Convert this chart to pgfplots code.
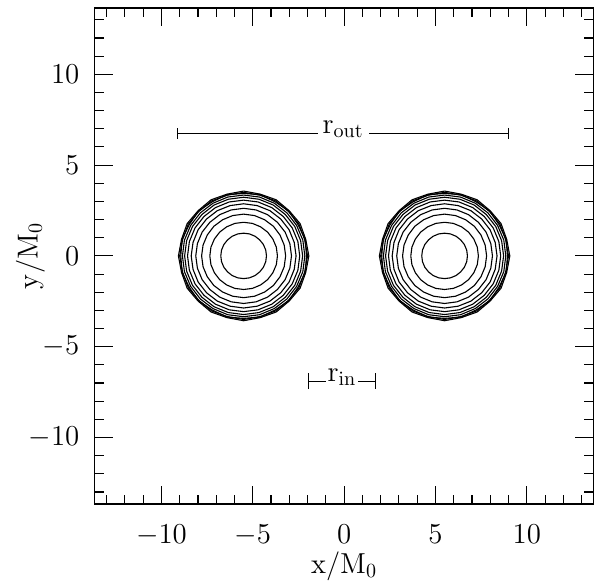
\documentclass[border=0pt]{standalone}
\usepackage{pgfplots}
\pgfplotsset{compat=1.18}
\usetikzlibrary{arrows.meta}

\pgfplotsset{cont/.style={black, line width=0.55pt, line join=round}}
\newcommand\lblfont{\fontsize{14.5}{17}\selectfont}

\begin{document}
\begin{tikzpicture}
\useasboundingbox (-47.25pt,-38.75pt) rectangle (252pt,251.25pt);
\begin{axis}[
  at={(0,0)}, anchor=south west,
  scale only axis, width=248.75pt, height=247.25pt,
  xmin=-13.65, xmax=13.65, ymin=-13.65, ymax=13.65,
  xtick={-10,-5,0,5,10}, ytick={-10,-5,0,5,10},
  minor xtick={-13,-12,-11,-9,-8,-7,-6,-4,-3,-2,-1,1,2,3,4,6,7,8,9,11,12,13},
  minor ytick={-13,-12,-11,-9,-8,-7,-6,-4,-3,-2,-1,1,2,3,4,6,7,8,9,11,12,13},
  tick align=inside, tick pos=both,
  major tick length=9pt, minor tick length=4.5pt,
  every tick/.style={black, line width=0.55pt},
  axis line style={black, line width=0.75pt},
  tick label style={font=\lblfont},
  xticklabel style={anchor=base, yshift=-19.75pt},
  yticklabel style={anchor=east, inner sep=0pt, xshift=-7.5pt},
  label style={font=\lblfont},
  xlabel={$\mathrm{x/M_0}$}, ylabel={$\mathrm{y/M_0}$},
  xlabel style={at={([yshift=-34.75pt]axis description cs:0.5,0)}, anchor=base},
  ylabel style={at={([xshift=-28.5pt]axis description cs:0,0.5)}, anchor=base},
]
% left star
\addplot[cont] coordinates {(-4.25,0) (-4.29,0.32) (-4.42,0.63) (-4.62,0.88) (-4.87,1.08) (-5.18,1.21) (-5.50,1.25) (-5.82,1.21) (-6.13,1.08) (-6.38,0.88) (-6.58,0.63) (-6.71,0.32) (-6.75,0) (-6.71,-0.32) (-6.58,-0.63) (-6.38,-0.88) (-6.13,-1.08) (-5.82,-1.21) (-5.50,-1.25) (-5.18,-1.21) (-4.87,-1.08) (-4.62,-0.88) (-4.42,-0.63) (-4.29,-0.32) (-4.25,0)};
\addplot[cont] coordinates {(-3.65,0) (-3.71,0.48) (-3.90,0.93) (-4.19,1.31) (-4.57,1.60) (-5.02,1.79) (-5.50,1.85) (-5.98,1.79) (-6.43,1.60) (-6.81,1.31) (-7.10,0.93) (-7.29,0.48) (-7.35,0) (-7.29,-0.48) (-7.10,-0.93) (-6.81,-1.31) (-6.43,-1.60) (-5.98,-1.79) (-5.50,-1.85) (-5.02,-1.79) (-4.57,-1.60) (-4.19,-1.31) (-3.90,-0.93) (-3.71,-0.48) (-3.65,0)};
\addplot[cont] coordinates {(-3.20,0) (-3.28,0.60) (-3.51,1.15) (-3.87,1.63) (-4.35,1.99) (-4.90,2.22) (-5.50,2.30) (-6.10,2.22) (-6.65,1.99) (-7.13,1.63) (-7.49,1.15) (-7.72,0.60) (-7.80,0) (-7.72,-0.60) (-7.49,-1.15) (-7.13,-1.63) (-6.65,-1.99) (-6.10,-2.22) (-5.50,-2.30) (-4.90,-2.22) (-4.35,-1.99) (-3.87,-1.63) (-3.51,-1.15) (-3.28,-0.60) (-3.20,0)};
\addplot[cont] coordinates {(-2.88,0) (-2.97,0.68) (-3.23,1.31) (-3.65,1.85) (-4.19,2.27) (-4.82,2.53) (-5.50,2.62) (-6.18,2.53) (-6.81,2.27) (-7.35,1.85) (-7.77,1.31) (-8.03,0.68) (-8.12,0) (-8.03,-0.68) (-7.77,-1.31) (-7.35,-1.85) (-6.81,-2.27) (-6.18,-2.53) (-5.50,-2.62) (-4.82,-2.53) (-4.19,-2.27) (-3.65,-1.85) (-3.23,-1.31) (-2.97,-0.68) (-2.88,0)};
\addplot[cont] coordinates {(-2.63,0) (-2.73,0.74) (-3.01,1.44) (-3.47,2.03) (-4.06,2.49) (-4.76,2.77) (-5.50,2.87) (-6.24,2.77) (-6.94,2.49) (-7.53,2.03) (-7.99,1.44) (-8.27,0.74) (-8.37,0) (-8.27,-0.74) (-7.99,-1.44) (-7.53,-2.03) (-6.94,-2.49) (-6.24,-2.77) (-5.50,-2.87) (-4.76,-2.77) (-4.06,-2.49) (-3.47,-2.03) (-3.01,-1.44) (-2.73,-0.74) (-2.63,0)};
\addplot[cont] coordinates {(-2.43,0) (-2.53,0.79) (-2.84,1.54) (-3.33,2.17) (-3.96,2.66) (-4.71,2.97) (-5.50,3.07) (-6.29,2.97) (-7.04,2.66) (-7.67,2.17) (-8.16,1.54) (-8.47,0.79) (-8.57,0) (-8.47,-0.79) (-8.16,-1.54) (-7.67,-2.17) (-7.04,-2.66) (-6.29,-2.97) (-5.50,-3.07) (-4.71,-2.97) (-3.96,-2.66) (-3.33,-2.17) (-2.84,-1.54) (-2.53,-0.79) (-2.43,0)};
\addplot[cont] coordinates {(-2.27,0) (-2.38,0.84) (-2.70,1.62) (-3.22,2.28) (-3.88,2.80) (-4.66,3.12) (-5.50,3.23) (-6.34,3.12) (-7.12,2.80) (-7.78,2.28) (-8.30,1.62) (-8.62,0.84) (-8.73,0) (-8.62,-0.84) (-8.30,-1.62) (-7.78,-2.28) (-7.12,-2.80) (-6.34,-3.12) (-5.50,-3.23) (-4.66,-3.12) (-3.88,-2.80) (-3.22,-2.28) (-2.70,-1.62) (-2.38,-0.84) (-2.27,0)};
\addplot[cont] coordinates {(-2.15,0) (-2.26,0.87) (-2.60,1.68) (-3.13,2.37) (-3.82,2.90) (-4.63,3.24) (-5.50,3.35) (-6.37,3.24) (-7.18,2.90) (-7.87,2.37) (-8.40,1.68) (-8.74,0.87) (-8.85,0) (-8.74,-0.87) (-8.40,-1.68) (-7.87,-2.37) (-7.18,-2.90) (-6.37,-3.24) (-5.50,-3.35) (-4.63,-3.24) (-3.82,-2.90) (-3.13,-2.37) (-2.60,-1.68) (-2.26,-0.87) (-2.15,0)};
\addplot[cont] coordinates {(-2.06,0) (-2.13,0.90) (-2.52,1.72) (-3.03,2.47) (-3.78,2.98) (-4.60,3.37) (-5.50,3.44) (-6.40,3.37) (-7.22,2.98) (-7.97,2.47) (-8.48,1.72) (-8.87,0.90) (-8.94,0) (-8.87,-0.90) (-8.48,-1.72) (-7.97,-2.47) (-7.22,-2.98) (-6.40,-3.37) (-5.50,-3.44) (-4.60,-3.37) (-3.78,-2.98) (-3.03,-2.47) (-2.52,-1.72) (-2.13,-0.90) (-2.06,0)};
\addplot[cont] coordinates {(-2.00,0) (-2.16,0.90) (-2.47,1.75) (-3.05,2.45) (-3.75,3.03) (-4.60,3.34) (-5.50,3.50) (-6.40,3.34) (-7.25,3.03) (-7.95,2.45) (-8.53,1.75) (-8.84,0.90) (-9.00,0) (-8.84,-0.90) (-8.53,-1.75) (-7.95,-2.45) (-7.25,-3.03) (-6.40,-3.34) (-5.50,-3.50) (-4.60,-3.34) (-3.75,-3.03) (-3.05,-2.45) (-2.47,-1.75) (-2.16,-0.90) (-2.00,0)};
\addplot[cont] coordinates {(-1.93,0) (-2.10,0.91) (-2.41,1.78) (-3.01,2.49) (-3.72,3.09) (-4.59,3.40) (-5.50,3.57) (-6.41,3.40) (-7.28,3.09) (-7.99,2.49) (-8.59,1.78) (-8.90,0.91) (-9.07,0) (-8.90,-0.91) (-8.59,-1.78) (-7.99,-2.49) (-7.28,-3.09) (-6.41,-3.40) (-5.50,-3.57) (-4.59,-3.40) (-3.72,-3.09) (-3.01,-2.49) (-2.41,-1.78) (-2.10,-0.91) (-1.93,0)};
% right star
\addplot[cont] coordinates {(6.75,0) (6.71,0.32) (6.58,0.63) (6.38,0.88) (6.13,1.08) (5.82,1.21) (5.50,1.25) (5.18,1.21) (4.87,1.08) (4.62,0.88) (4.42,0.63) (4.29,0.32) (4.25,0) (4.29,-0.32) (4.42,-0.63) (4.62,-0.88) (4.87,-1.08) (5.18,-1.21) (5.50,-1.25) (5.82,-1.21) (6.13,-1.08) (6.38,-0.88) (6.58,-0.63) (6.71,-0.32) (6.75,0)};
\addplot[cont] coordinates {(7.35,0) (7.29,0.48) (7.10,0.93) (6.81,1.31) (6.43,1.60) (5.98,1.79) (5.50,1.85) (5.02,1.79) (4.57,1.60) (4.19,1.31) (3.90,0.93) (3.71,0.48) (3.65,0) (3.71,-0.48) (3.90,-0.93) (4.19,-1.31) (4.57,-1.60) (5.02,-1.79) (5.50,-1.85) (5.98,-1.79) (6.43,-1.60) (6.81,-1.31) (7.10,-0.93) (7.29,-0.48) (7.35,0)};
\addplot[cont] coordinates {(7.80,0) (7.72,0.60) (7.49,1.15) (7.13,1.63) (6.65,1.99) (6.10,2.22) (5.50,2.30) (4.90,2.22) (4.35,1.99) (3.87,1.63) (3.51,1.15) (3.28,0.60) (3.20,0) (3.28,-0.60) (3.51,-1.15) (3.87,-1.63) (4.35,-1.99) (4.90,-2.22) (5.50,-2.30) (6.10,-2.22) (6.65,-1.99) (7.13,-1.63) (7.49,-1.15) (7.72,-0.60) (7.80,0)};
\addplot[cont] coordinates {(8.12,0) (8.03,0.68) (7.77,1.31) (7.35,1.85) (6.81,2.27) (6.18,2.53) (5.50,2.62) (4.82,2.53) (4.19,2.27) (3.65,1.85) (3.23,1.31) (2.97,0.68) (2.88,0) (2.97,-0.68) (3.23,-1.31) (3.65,-1.85) (4.19,-2.27) (4.82,-2.53) (5.50,-2.62) (6.18,-2.53) (6.81,-2.27) (7.35,-1.85) (7.77,-1.31) (8.03,-0.68) (8.12,0)};
\addplot[cont] coordinates {(8.37,0) (8.27,0.74) (7.99,1.44) (7.53,2.03) (6.94,2.49) (6.24,2.77) (5.50,2.87) (4.76,2.77) (4.06,2.49) (3.47,2.03) (3.01,1.44) (2.73,0.74) (2.63,0) (2.73,-0.74) (3.01,-1.44) (3.47,-2.03) (4.06,-2.49) (4.76,-2.77) (5.50,-2.87) (6.24,-2.77) (6.94,-2.49) (7.53,-2.03) (7.99,-1.44) (8.27,-0.74) (8.37,0)};
\addplot[cont] coordinates {(8.57,0) (8.47,0.79) (8.16,1.54) (7.67,2.17) (7.04,2.66) (6.29,2.97) (5.50,3.07) (4.71,2.97) (3.96,2.66) (3.33,2.17) (2.84,1.54) (2.53,0.79) (2.43,0) (2.53,-0.79) (2.84,-1.54) (3.33,-2.17) (3.96,-2.66) (4.71,-2.97) (5.50,-3.07) (6.29,-2.97) (7.04,-2.66) (7.67,-2.17) (8.16,-1.54) (8.47,-0.79) (8.57,0)};
\addplot[cont] coordinates {(8.73,0) (8.62,0.84) (8.30,1.62) (7.78,2.28) (7.12,2.80) (6.34,3.12) (5.50,3.23) (4.66,3.12) (3.88,2.80) (3.22,2.28) (2.70,1.62) (2.38,0.84) (2.27,0) (2.38,-0.84) (2.70,-1.62) (3.22,-2.28) (3.88,-2.80) (4.66,-3.12) (5.50,-3.23) (6.34,-3.12) (7.12,-2.80) (7.78,-2.28) (8.30,-1.62) (8.62,-0.84) (8.73,0)};
\addplot[cont] coordinates {(8.85,0) (8.74,0.87) (8.40,1.68) (7.87,2.37) (7.18,2.90) (6.37,3.24) (5.50,3.35) (4.63,3.24) (3.82,2.90) (3.13,2.37) (2.60,1.68) (2.26,0.87) (2.15,0) (2.26,-0.87) (2.60,-1.68) (3.13,-2.37) (3.82,-2.90) (4.63,-3.24) (5.50,-3.35) (6.37,-3.24) (7.18,-2.90) (7.87,-2.37) (8.40,-1.68) (8.74,-0.87) (8.85,0)};
\addplot[cont] coordinates {(8.94,0) (8.87,0.90) (8.48,1.72) (7.97,2.47) (7.22,2.98) (6.40,3.37) (5.50,3.44) (4.60,3.37) (3.78,2.98) (3.03,2.47) (2.52,1.72) (2.13,0.90) (2.06,0) (2.13,-0.90) (2.52,-1.72) (3.03,-2.47) (3.78,-2.98) (4.60,-3.37) (5.50,-3.44) (6.40,-3.37) (7.22,-2.98) (7.97,-2.47) (8.48,-1.72) (8.87,-0.90) (8.94,0)};
\addplot[cont] coordinates {(9.00,0) (8.84,0.90) (8.53,1.75) (7.95,2.45) (7.25,3.03) (6.40,3.34) (5.50,3.50) (4.60,3.34) (3.75,3.03) (3.05,2.45) (2.47,1.75) (2.16,0.90) (2.00,0) (2.16,-0.90) (2.47,-1.75) (3.05,-2.45) (3.75,-3.03) (4.60,-3.34) (5.50,-3.50) (6.40,-3.34) (7.25,-3.03) (7.95,-2.45) (8.53,-1.75) (8.84,-0.90) (9.00,0)};
\addplot[cont] coordinates {(9.07,0) (8.90,0.91) (8.59,1.78) (7.99,2.49) (7.28,3.09) (6.41,3.40) (5.50,3.57) (4.59,3.40) (3.72,3.09) (3.01,2.49) (2.41,1.78) (2.10,0.91) (1.93,0) (2.10,-0.91) (2.41,-1.78) (3.01,-2.49) (3.72,-3.09) (4.59,-3.40) (5.50,-3.57) (6.41,-3.40) (7.28,-3.09) (7.99,-2.49) (8.59,-1.78) (8.90,-0.91) (9.07,0)};
% r_out and r_in markers
\addplot[black, line width=0.55pt, {Bar[width=5.5pt]}-{Bar[width=5.5pt]}] coordinates {(-9.15,6.75) (9.05,6.75)}
  node[pos=0.5, anchor=base, fill=white, inner xsep=2.5pt, inner ysep=1pt, font=\lblfont] {$\mathrm{r_{out}}$};
\addplot[black, line width=0.55pt, {Bar[width=8pt]}-{Bar[width=8pt]}] coordinates {(-2.0,-6.9) (1.77,-6.9)}
  node[pos=0.5, anchor=base, fill=white, inner xsep=1pt, inner ysep=1pt, font=\lblfont] {$\mathrm{r_{in}}$};
\end{axis}
\end{tikzpicture}
\end{document}
